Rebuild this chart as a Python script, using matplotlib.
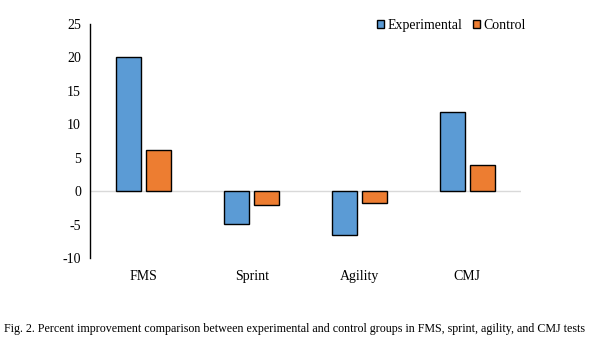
import matplotlib
matplotlib.use("Agg")
import matplotlib.pyplot as plt
import numpy as np

categories = ["FMS", "Sprint", "Agility", "CMJ"]
experimental = [20.0, -4.9, -6.6, 11.9]
control = [6.1, -2.0, -1.8, 3.9]
yticks = [25, 20, 15, 10, 5, 0, -5, -10]

plt.rcParams['font.family'] = ['Liberation Serif', 'DejaVu Serif']

fig = plt.figure(figsize=(6.01, 3.47), dpi=100)
ax = fig.add_axes([0.1498, 0.2565, 0.7172, 0.6743])

x = np.arange(len(categories))
off = 0.139
w = 0.232
ax.bar(x - off, experimental, width=w, color="#5B9BD5", edgecolor="black", linewidth=1.0, label="Experimental", zorder=3)
ax.bar(x + off, control, width=w, color="#ED7D31", edgecolor="black", linewidth=1.0, label="Control", zorder=3)

ax.set_xlim(-0.5, 3.5)
ax.set_ylim(-10, 25)
ax.set_yticks(yticks)
ax.set_yticklabels([str(t) for t in yticks], fontsize=10)
ax.axhline(0, color="#D9D9D9", linewidth=1.0, zorder=2)

for s in ["top", "right", "bottom"]:
    ax.spines[s].set_visible(False)
ax.spines["left"].set_color("black")
ax.spines["left"].set_linewidth(1.0)
ax.tick_params(axis="y", length=0, pad=6.5)
ax.tick_params(axis="x", length=0, pad=9)
ax.set_xticks(x)
ax.set_xticklabels(categories, fontsize=10)

leg = ax.legend(loc="center", bbox_to_anchor=(0.838, 0.995), ncol=2, frameon=False,
                fontsize=10, handlelength=0.5, handleheight=0.5, handletextpad=0.25,
                columnspacing=0.8, borderpad=0)

fig.text(0.007, 0.052, "Fig. 2. Percent improvement comparison between experimental and control groups in FMS, sprint, agility, and CMJ tests",
         fontsize=8.65, ha="left", va="center")

fig.savefig("out.png", dpi=100)
